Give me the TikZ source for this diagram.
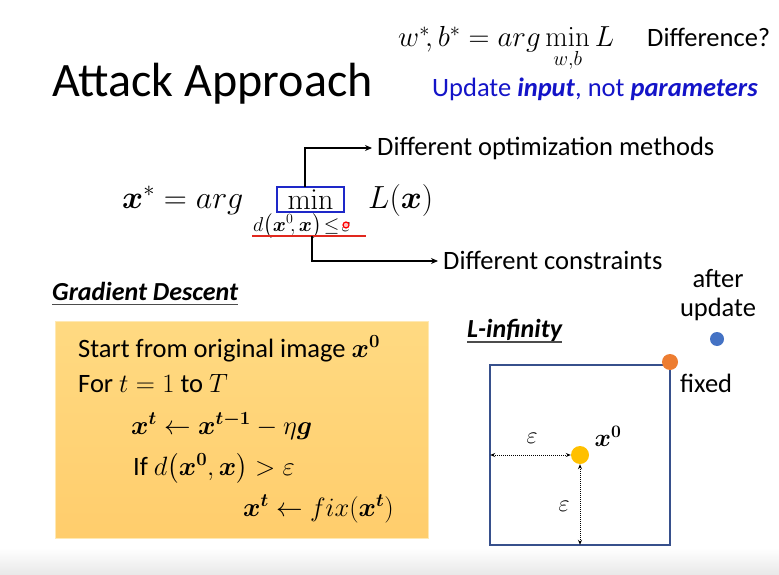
\RequirePackage{fix-cm}
\documentclass[tikz,border=0pt]{standalone}
\usepackage{amsmath,bm}
\usepackage[no-math]{fontspec}
\setmainfont{Carlito}
\usetikzlibrary{arrows.meta}
\definecolor{updblue}{RGB}{20,20,200}
\definecolor{minblue}{RGB}{30,40,200}
\definecolor{sqblue}{RGB}{55,80,140}
\definecolor{redline}{RGB}{225,40,30}
\definecolor{boxtop}{RGB}{255,218,130}
\definecolor{boxbot}{RGB}{255,205,108}
\definecolor{dotyellow}{RGB}{255,192,0}
\definecolor{dotorange}{RGB}{237,125,49}
\definecolor{dotblue}{RGB}{68,114,196}
\tikzset{
  txt/.style={anchor=base west, inner sep=0pt, font=\fontsize{26.5}{30}\selectfont},
  ctxt/.style={inner sep=0pt, font=\fontsize{26.5}{30}\selectfont},
  ttl/.style={anchor=base west, inner sep=0pt, font=\fontsize{48}{56}\selectfont},
  eqn/.style={anchor=base west, inner sep=0pt, font=\fontsize{32}{38}\selectfont},
  hdr/.style={anchor=base west, inner sep=0pt, font=\fontsize{26}{28}\selectfont\bfseries\itshape},
  conn/.style={line width=1.4pt, -{Stealth[length=7pt,width=6pt]}},
  ulin/.style={line width=1.5pt, black!70},
  dim/.style={line width=1pt, densely dotted, {Stealth[length=5pt,width=4pt]}-{Stealth[length=5pt,width=4pt]}},
  dot/.style={circle, inner sep=0pt, minimum size=#1}
}
\begin{document}
\begin{tikzpicture}[x=1pt,y=-1pt]
\useasboundingbox (0,0) rectangle (779,575);
\shade[top color=white, bottom color=black!9] (0,548) rectangle (779,575);

% title and top right
\node[ttl] (title) at (52,97) {Attack Approach};
\node[anchor=base west, inner sep=0pt, font=\fontsize{29}{34}\selectfont] (wb) at (398,47) {$w^*\!,b^* = arg\min\limits_{w,b} L$};
\node[txt] (diff) at (647,47) {Difference?};
\node[txt, text=updblue] (upd) at (432,97) {Update \textbf{\textit{input}}, not \textbf{\textit{parameters}}};

% main equation
\node[eqn] (xs) at (122,208) {$\bm{x}^* = arg$};
\node[draw=minblue, line width=1.5pt, minimum width=67pt, minimum height=25pt, inner sep=0pt,
      font=\fontsize{30}{34}\selectfont] (minbox) at (310.5,199.5) {$\mathrm{min}$};
\node[eqn] (Lx) at (368,208) {$L(\bm{x})$};
\node[anchor=base west, inner sep=0pt, font=\fontsize{20}{24}\selectfont] (cons) at (253,231)
   {$d\bigl(\bm{x}^0\!,\bm{x}\bigr)\!\le\!\varepsilon$};
\coordinate (rl) at (252,236);
\coordinate (rr) at (366,236);
\draw[redline, line width=2pt] (rl) -- (rr);
\node[circle, draw=red, fill=red!25, line width=1.2pt, inner sep=0pt, minimum size=6pt] (laser) at (346,225) {};

\node[txt] (dom) at (377,156) {Different optimization methods};
\node[txt] (dcons) at (443,269) {Different constraints};
\coordinate (mtop) at (305,187);
\coordinate (rmid) at (312,236);
\draw[conn] (mtop) |- ([xshift=-5pt,yshift=8pt]dom.base west);
\draw[conn] (rmid) |- ([xshift=-5pt,yshift=8pt]dcons.base west);

% gradient descent
\node[hdr] (gd) at (52,300) {Gradient Descent};
\draw[ulin] ([yshift=-4.5pt]gd.base west) -- ([yshift=-4.5pt]gd.base east);
\node[top color=boxtop, bottom color=boxbot, draw=boxtop!60!white, line width=0.8pt,
      minimum width=373pt, minimum height=217pt, inner sep=0pt] (gbox) at (241.5,429.5) {};
\node[txt] (l1) at (78,357) {Start from original image $\bm{x}^{\bm{0}}$};
\node[txt] (l2) at (78,392) {For $t=1$ to $T$};
\node[txt] (l3) at (131,434) {$\bm{x}^{\bm{t}} \leftarrow \bm{x}^{\bm{t-1}} - \eta\bm{g}$};
\node[txt] (l4) at (133,475) {If $d\bigl(\bm{x}^{\bm{0}}, \bm{x}\bigr) > \varepsilon$};
\node[txt] (l5) at (243,516) {$\bm{x}^{\bm{t}} \leftarrow fix(\bm{x}^{\bm{t}})$};

% L-infinity
\node[hdr] (linf) at (467,337) {L-infinity};
\draw[ulin] ([yshift=-5pt]linf.base west) -- ([yshift=-5pt]linf.base east);
\node[draw=sqblue, line width=2.6pt, minimum width=180pt, minimum height=180pt, inner sep=0pt] (sq) at (580,455) {};
\node[dot=18pt, fill=dotyellow] (x0) at (580,455) {};
\node[dot=16pt, fill=dotorange] (fixd) at (670,362) {};
\node[dot=14pt, fill=dotblue] (aft) at (717,339) {};
\node[ctxt] (after) at (718,279) {after};
\node[ctxt] (update) at (718,309) {update};
\node[txt] (fixed) at (680,392) {fixed};
\node[inner sep=0pt, font=\fontsize{25}{28}\selectfont] (x0lab) at (608,436) {$\bm{x}^{\bm{0}}$};
\node[inner sep=0pt, font=\fontsize{24}{26}\selectfont] (eps1) at (532,438) {$\varepsilon$};
\node[inner sep=0pt, font=\fontsize{24}{26}\selectfont] (eps2) at (564,506) {$\varepsilon$};
\draw[dim] ([xshift=1.5pt]sq.west |- x0) -- (x0.west);
\draw[dim] (x0.south) -- ([yshift=1.5pt]sq.south -| x0);
\end{tikzpicture}
\end{document}
